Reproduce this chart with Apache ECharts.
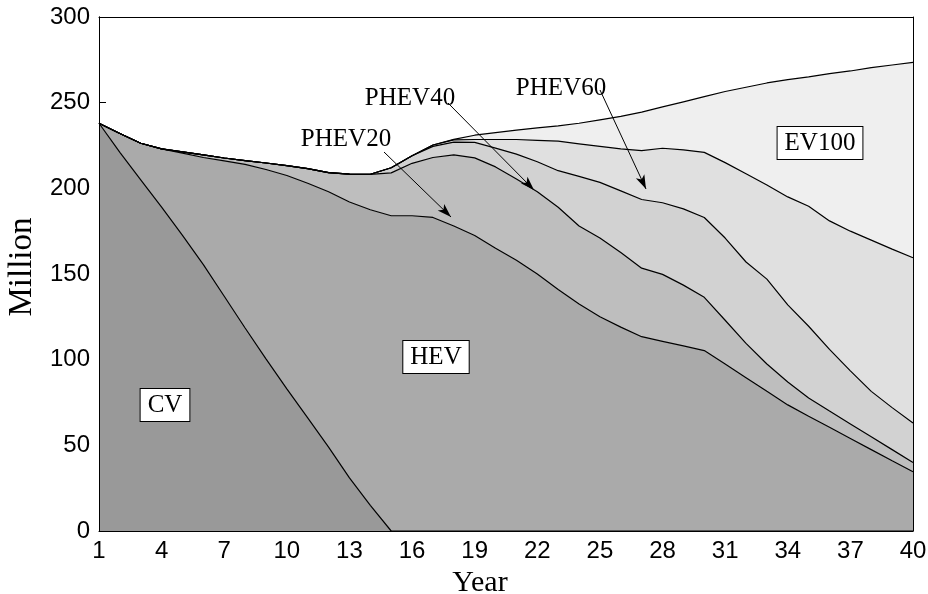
<!DOCTYPE html>
<html>
<head>
<meta charset="utf-8">
<script src="https://cdn.jsdelivr.net/npm/echarts@6/dist/echarts.min.js"></script>
<style>
  html, body { margin: 0; padding: 0; background: #fff; }
  #main { width: 928px; height: 594px; }
</style>
</head>
<body>
<div id="main"></div>
<script>
// years on the x axis
var years = [];
for (var i = 1; i <= 40; i++) years.push(String(i));

// stock of each vehicle type, million
var cv = [238, 221, 205, 189, 172.5, 155.5, 137, 118.5, 100.5, 83, 66, 49, 31, 15, 0, 0, 0, 0, 0, 0,
          0, 0, 0, 0, 0, 0, 0, 0, 0, 0, 0, 0, 0, 0, 0, 0, 0, 0, 0, 0];
var hev = [0, 11, 21.3, 34, 48, 62.5, 79, 95.5, 110.5, 124.5, 137, 149, 161, 172.5, 184, 184, 183, 178, 172.5, 165,
           158, 150, 141, 132.5, 125, 119, 113.4, 110.7, 108, 105.3, 97.5, 89.5, 81.5, 73.6, 67, 60.5, 54, 47.5, 41, 34.6];
var phev20 = [0, 0, 0, 0, 0.8, 1.5, 1.7, 2.2, 3.8, 5.8, 8.5, 11.2, 16.3, 20.7, 25, 30.6, 35, 41.5, 45.3, 47.5,
              47.5, 48, 48, 45.5, 46, 43.5, 40, 39.1, 35.5, 31.1, 25.5, 20, 16, 13.4, 10.6, 9.5, 8.5, 7.5, 6.5, 5.4];
var phev40 = [0, 0, 0, 0, 0, 0, 0, 0, 0, 0, 0, 0, 0, 0, 3, 4.4, 6.5, 7.5, 9, 11,
              14.5, 17.5, 21.3, 29, 32.5, 36, 40.1, 41.8, 44.5, 46.6, 48, 47.5, 49.5, 45, 41.9, 36, 31, 26.5, 24.5, 23];
var phev60 = [0, 0, 0, 0, 0, 0, 0, 0, 0, 0, 0, 0, 0, 0, 0, 0, 0.8, 1.3, 1.7, 5,
              8.5, 12.5, 17.2, 19, 21, 24.5, 28.5, 31.8, 34.5, 38, 44, 51.5, 55, 63, 70, 75, 81.5, 88.3, 92.5, 96.5];
var ev100 = [0, 0, 0, 0, 0, 0, 0, 0, 0, 0, 0, 0, 0, 0, 0, 0, 0, 0.3, 2.5, 4,
             5.5, 7.3, 9, 12, 15.5, 19, 22.5, 24.1, 28, 32.5, 41.5, 50.5, 59.5, 68.5, 75.5, 86, 93.5, 100.7, 107.5, 114];

var seriesNames = ['CV', 'HEV', 'PHEV20', 'PHEV40', 'PHEV60', 'EV100'];
var seriesData = [cv, hev, phev20, phev40, phev60, ev100];
var fills = ['#999999', '#aaaaaa', '#bebebe', '#d2d2d2', '#e0e0e0', '#efefef'];

var myChart = echarts.init(document.getElementById('main'));

var serif = '"Liberation Serif", "DejaVu Serif", serif';
var sans = '"Liberation Sans", Arial, sans-serif';

var series = seriesNames.map(function (name, k) {
    return {
        name: name,
        type: 'line',
        stack: 'total',
        symbol: 'none',
        z: 2,
        lineStyle: {color: '#000', width: 1.2},
        areaStyle: {color: fills[k], opacity: 1},
        data: seriesData[k]
    };
});

// arrows from the PHEV labels
series[5].markLine = {
    silent: true,
    symbol: ['none', 'arrow'],
    symbolSize: [7, 14],
    label: {show: false},
    lineStyle: {color: '#000', width: 1, type: 'solid'},
    data: [
        [{x: 384, y: 152}, {x: 451, y: 217}],
        [{x: 448, y: 103}, {x: 534, y: 190}],
        [{x: 600, y: 90}, {x: 646, y: 189}]
    ]
};

var boxLabel = function (text, x, y) {
    return {type: 'text', z: 20, x: x, y: y, style: {text: text, font: '25px ' + serif, fill: '#000',
        align: 'center', verticalAlign: 'middle', backgroundColor: '#fff', borderColor: '#000',
        borderWidth: 1, padding: [4, 7, 3, 7]}};
};
var plainLabel = function (text, x, y) {
    return {type: 'text', z: 20, x: x, y: y, style: {text: text, font: '25px ' + serif, fill: '#000',
        align: 'center', verticalAlign: 'middle'}};
};

var option = {
    animation: false,
    grid: {left: 99, right: 15, top: 17, bottom: 63, outerBoundsMode: 'none', containLabel: false},
    xAxis: [{
        type: 'category',
        data: years,
        boundaryGap: false,
        z: 5,
        name: 'Year',
        nameLocation: 'middle',
        nameGap: 36,
        nameTextStyle: {fontFamily: serif, fontSize: 30, color: '#000', padding: [0, 52, 0, 0]},
        axisLine: {onZero: false, lineStyle: {color: '#000', width: 1}},
        axisTick: {show: false},
        axisLabel: {interval: 2, margin: 8, fontFamily: sans, fontSize: 24, color: '#000'},
        splitLine: {show: false}
    }, {
        type: 'category',
        data: years,
        boundaryGap: false,
        position: 'top',
        z: 5,
        axisLine: {show: true, onZero: false, lineStyle: {color: '#000', width: 1}},
        axisTick: {show: false},
        axisLabel: {show: false},
        splitLine: {show: false}
    }],
    yAxis: [{
        type: 'value',
        min: 0,
        max: 300,
        interval: 50,
        z: 0,
        name: 'Million',
        nameLocation: 'middle',
        nameGap: 60,
        nameTextStyle: {fontFamily: serif, fontSize: 33, color: '#000', padding: [0, 0, 0, 14]},
        axisLine: {show: true, onZero: false, lineStyle: {color: '#000', width: 1}},
        axisTick: {show: true, inside: true, length: 7, lineStyle: {color: '#000'}},
        axisLabel: {margin: 9, fontFamily: sans, fontSize: 24, color: '#000'},
        splitLine: {show: false}
    }, {
        type: 'value',
        min: 0,
        max: 300,
        position: 'left',
        z: 5,
        axisLine: {show: true, onZero: false, lineStyle: {color: '#000', width: 1}},
        axisTick: {show: false},
        axisLabel: {show: false},
        splitLine: {show: false}
    }, {
        type: 'value',
        min: 0,
        max: 300,
        position: 'right',
        z: 5,
        axisLine: {show: true, onZero: false, lineStyle: {color: '#000', width: 1}},
        axisTick: {show: false},
        axisLabel: {show: false},
        splitLine: {show: false}
    }],
    graphic: [
        boxLabel('CV', 165, 405),
        boxLabel('HEV', 436, 357),
        boxLabel('EV100', 820, 143),
        plainLabel('PHEV20', 346, 139),
        plainLabel('PHEV40', 410, 98),
        plainLabel('PHEV60', 561, 88)
    ],
    series: series
};

myChart.setOption(option);
</script>
</body>
</html>
